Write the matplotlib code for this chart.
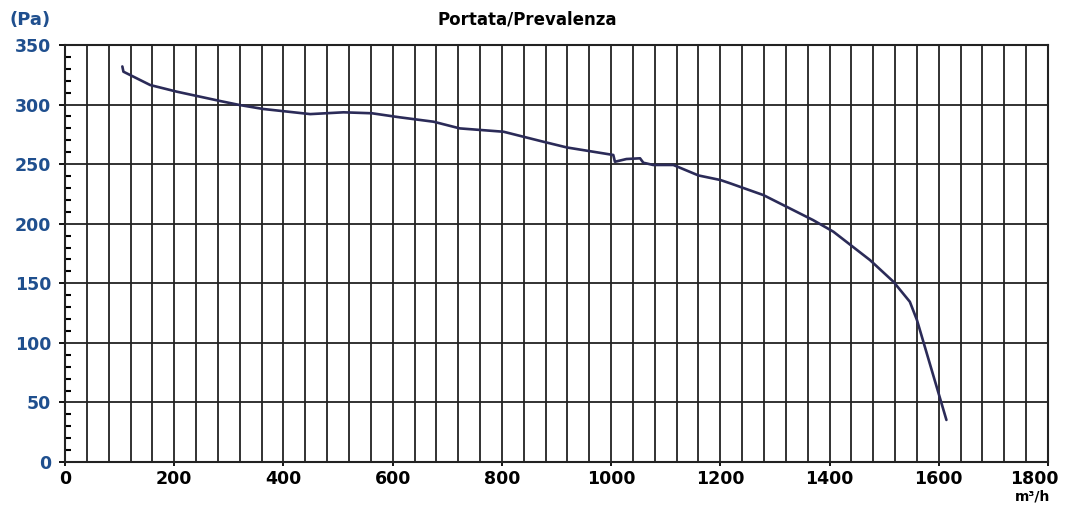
import matplotlib.pyplot as plt
import matplotlib.transforms as mtransforms
from matplotlib.ticker import MultipleLocator

# curva portata / prevalenza
portata = [105, 107, 156, 205, 284, 320, 363, 449, 510, 562, 613, 675, 723, 803,
           876, 919, 1004, 1007, 1028, 1053, 1059, 1077, 1114, 1160, 1200, 1218,
           1279, 1370, 1407, 1474, 1517, 1547, 1560, 1614]
prevalenza = [332, 327.6, 316.4, 310.8, 303, 299.6, 296.3, 292, 293.5, 292.7, 289.3,
              285.6, 280, 277.2, 268.8, 264, 257.7, 252, 254.3, 254.9, 251.2, 249.3,
              249.3, 240.5, 236.7, 233.9, 224, 203, 193.3, 169.5, 151.3, 134.5, 119.2, 35.3]

x_ticks = [0, 200, 400, 600, 800, 1000, 1200, 1400, 1600, 1800]
y_ticks = [0, 50, 100, 150, 200, 250, 300, 350]

blu = '#1f4f8e'
linea = '#2b2b58'

plt.rcParams['font.family'] = ['DejaVu Sans']
plt.rcParams['font.weight'] = 'bold'

fig = plt.figure(figsize=(10.73, 5.09), dpi=100)
ax = fig.add_axes([65 / 1073, 1 - 462 / 509, 983 / 1073, 417 / 509])

ax.set_xlim(0, 1800)
ax.set_ylim(0, 350)

# griglia: verticali ogni 40, orizzontali ogni 50
ax.xaxis.set_minor_locator(MultipleLocator(40))
ax.set_xticks(x_ticks)
ax.set_yticks(y_ticks)
ax.yaxis.set_minor_locator(MultipleLocator(10))
ax.grid(True, which='major', axis='y', color='#222222', linewidth=1.3)
ax.grid(True, which='both', axis='x', color='#222222', linewidth=1.3)

ax.plot(portata, prevalenza, color=linea, linewidth=1.9, solid_capstyle='round')

for s in ax.spines.values():
    s.set_color('#222222')
    s.set_linewidth(1.5)

ax.tick_params(axis='x', which='major', length=3, width=1.3, labelsize=12.5,
               labelcolor='black', pad=3)
ax.tick_params(axis='x', which='minor', length=0)
ax.tick_params(axis='y', which='major', length=4, width=1.3, labelsize=12.5,
               labelcolor=blu, pad=6)
ax.tick_params(axis='y', which='minor', direction='in', length=4, width=1.5)
for lab in ax.get_xticklabels() + ax.get_yticklabels():
    lab.set_fontweight('bold')

# l'ultima etichetta (1800) è spostata a sinistra come nell'originale
ultima = ax.get_xticklabels()[-1]
ultima.set_transform(ultima.get_transform() +
                     mtransforms.ScaledTranslation(-0.14, 0, fig.dpi_scale_trans))

fig.text(30 / 1073, 1 - 20 / 509, '(Pa)', color=blu, fontsize=13, fontweight='bold',
         ha='center', va='center')
fig.text(527 / 1073, 1 - 19 / 509, 'Portata/Prevalenza', color='black', fontsize=12,
         fontweight='bold', ha='center', va='center')
fig.text(1033 / 1073, 1 - 497 / 509, 'm³/h', color='black', fontsize=10,
         fontweight='bold', ha='center', va='center')

fig.savefig('out.png', dpi=100)
